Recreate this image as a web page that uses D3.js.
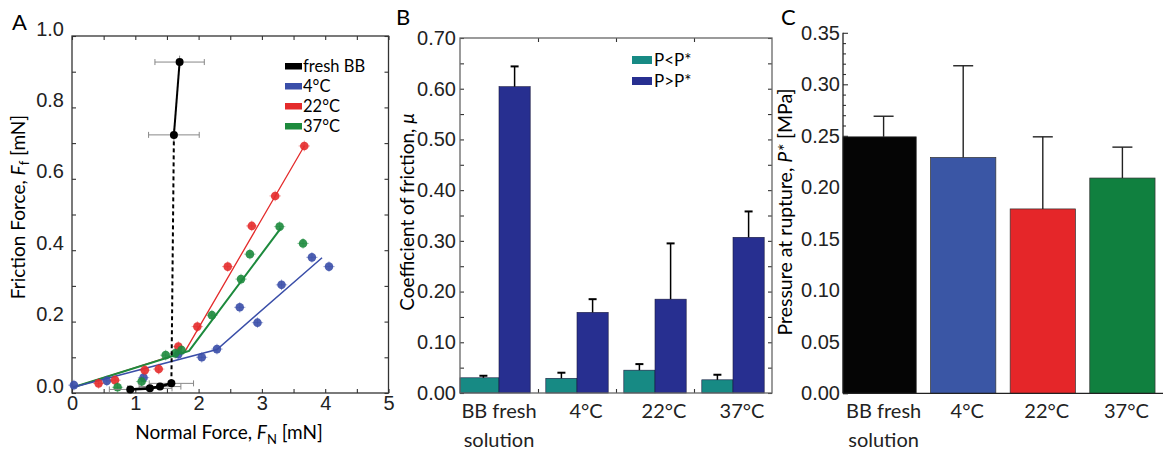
<!DOCTYPE html>
<html>
<head>
<meta charset="utf-8">
<script src="https://cdn.jsdelivr.net/npm/d3@7"></script>
<style>
  body { margin: 0; background: #fff; }
  svg { font-family: Lato, "Noto Sans", sans-serif; }
</style>
</head>
<body>
<svg id="fig" width="1164" height="454"></svg>
<script>
// ---- Panel A: friction force vs normal force, [F_N, F_f] in mN
const freshBB = [[0.92, 0.010], [1.23, 0.013], [1.39, 0.018], [1.57, 0.027], [1.61, 0.723], [1.70, 0.927]];
const freshBBxErr = [0.33, 0.35, 0.33, 0.35, 0.40, 0.39];
const pts4C = [[0.03, 0.022], [0.55, 0.034], [1.13, 0.043], [1.68, 0.109], [2.05, 0.100], [2.29, 0.123],
  [2.65, 0.240], [2.93, 0.197], [3.31, 0.303], [3.79, 0.380], [4.06, 0.354]];
const pts22C = [[0.42, 0.027], [0.68, 0.036], [1.15, 0.064], [1.37, 0.067], [1.68, 0.130], [1.98, 0.186],
  [2.46, 0.354], [2.84, 0.468], [3.21, 0.552], [3.67, 0.692]];
const pts37C = [[0.72, 0.016], [1.10, 0.032], [1.48, 0.106], [1.63, 0.111], [1.73, 0.120], [2.21, 0.218],
  [2.67, 0.319], [2.81, 0.389], [3.28, 0.466], [3.65, 0.419]];
const fit4C = [[0.02, 0.016], [2.29, 0.122], [3.95, 0.379]];
const fit22C = [[0.02, 0.016], [1.78, 0.115], [3.67, 0.692]];
const fit37C = [[0.02, 0.016], [1.85, 0.118], [3.30, 0.462]];
const legendA = ["fresh BB", "4°C", "22°C", "37°C"];

// ---- Panel B: coefficient of friction
const groups = ["BB fresh solution", "4°C", "22°C", "37°C"];
const seriesB = ["P<P*", "P>P*"];
const muBelow = [0.030, 0.029, 0.045, 0.026];
const muBelowErr = [0.004, 0.011, 0.012, 0.010];
const muAbove = [0.604, 0.159, 0.185, 0.307];
const muAboveErr = [0.040, 0.026, 0.110, 0.051];

// ---- Panel C: pressure at rupture
const rupture = [0.249, 0.229, 0.179, 0.209];
const ruptureErr = [0.020, 0.089, 0.070, 0.030];

const colA = { "fresh BB": "#000", "4°C": "#3a4ea8", "22°C": "#e42b2b", "37°C": "#1d8a3d" };
const colB = ["#178a84", "#272f90"];
const colC = ["#050505", "#3a56a5", "#e52629", "#10803f"];

const svg = d3.select("#fig");

// ===================== Panel A =====================
const xA = d3.scaleLinear().domain([0, 5]).range([72, 388.5]);
const yA = d3.scaleLinear().domain([0, 1]).range([393, 36]);
const gA = svg.append("g");

const styleAxis = (g, size) => {
  g.select(".domain").remove();
  g.selectAll("line").attr("stroke", "#333").attr("stroke-width", 1.1);
  g.selectAll("text").attr("font-size", size).attr("fill", "#222");
};

gA.append("g").attr("transform", `translate(0,${yA(0)})`)
  .call(d3.axisBottom(xA).tickValues(d3.range(0, 5.01, 0.5)).tickSize(-4).tickFormat(d => d % 1 ? "" : d))
  .call(g => styleAxis(g, 20));
gA.append("g").attr("transform", `translate(0,${yA(1)})`)
  .call(d3.axisTop(xA).tickValues(d3.range(0, 5.01, 0.5)).tickSize(-4).tickFormat(""))
  .call(g => styleAxis(g, 20));
gA.append("g").attr("transform", `translate(${xA(0)},0)`)
  .call(d3.axisLeft(yA).tickValues(d3.range(0, 1.01, 0.1)).tickSize(-4).tickPadding(8)
    .tickFormat(d => Math.round(d * 10) % 2 ? "" : d3.format(".1f")(d)))
  .call(g => styleAxis(g, 20))
  .call(g => g.selectAll("text").attr("dy", "-0.05em"));
gA.append("g").attr("transform", `translate(${xA(5)},0)`)
  .call(d3.axisRight(yA).tickValues(d3.range(0, 1.01, 0.1)).tickSize(-4).tickFormat(""))
  .call(g => styleAxis(g, 20));
gA.append("rect")
  .attr("x", xA(0)).attr("y", yA(1))
  .attr("width", xA(5) - xA(0)).attr("height", yA(0) - yA(1))
  .attr("fill", "none").attr("stroke", "#333").attr("stroke-width", 1.3);

const lineA = d3.line().x(d => xA(d[0])).y(d => yA(d[1]));

// fitted lines
[[fit22C, "22°C", 1.3], [fit37C, "37°C", 2], [fit4C, "4°C", 1.5]].forEach(([pts, key, w]) => {
  gA.append("path").datum(pts).attr("d", lineA)
    .attr("fill", "none").attr("stroke", colA[key]).attr("stroke-width", w);
});

// colored points with small error bars
[[pts4C, "4°C"], [pts22C, "22°C"], [pts37C, "37°C"]].forEach(([pts, key]) => {
  const g = gA.append("g");
  g.selectAll(".ex").data(pts).join("line")
    .attr("x1", d => xA(d[0] - 0.09)).attr("x2", d => xA(d[0] + 0.09))
    .attr("y1", d => yA(d[1])).attr("y2", d => yA(d[1]))
    .attr("stroke", colA[key]).attr("stroke-opacity", 0.45).attr("stroke-width", 1);
  g.selectAll(".ey").data(pts).join("line")
    .attr("x1", d => xA(d[0])).attr("x2", d => xA(d[0]))
    .attr("y1", d => yA(d[1] - 0.015)).attr("y2", d => yA(d[1] + 0.015))
    .attr("stroke", colA[key]).attr("stroke-opacity", 0.45).attr("stroke-width", 1);
  g.selectAll("circle").data(pts).join("circle")
    .attr("cx", d => xA(d[0])).attr("cy", d => yA(d[1])).attr("r", 4.3)
    .attr("fill", colA[key]).attr("fill-opacity", 0.9);
});

// fresh BB: grey x error bars, solid / dashed black line
gA.selectAll(".bbx").data(freshBB).join("line")
  .attr("x1", (d, i) => xA(d[0] - freshBBxErr[i])).attr("x2", (d, i) => xA(d[0] + freshBBxErr[i]))
  .attr("y1", d => yA(d[1])).attr("y2", d => yA(d[1]))
  .attr("stroke", "#888").attr("stroke-width", 1);
gA.selectAll(".bbxc").data(freshBB.flatMap((d, i) => [[d[0] - freshBBxErr[i], d[1]], [d[0] + freshBBxErr[i], d[1]]])).join("line")
  .attr("x1", d => xA(d[0])).attr("x2", d => xA(d[0]))
  .attr("y1", d => yA(d[1]) - 3).attr("y2", d => yA(d[1]) + 3)
  .attr("stroke", "#888").attr("stroke-width", 1);
gA.selectAll(".bby").data(freshBB.slice(4)).join("line")
  .attr("x1", d => xA(d[0])).attr("x2", d => xA(d[0]))
  .attr("y1", d => yA(d[1] - 0.018)).attr("y2", d => yA(d[1] + 0.018))
  .attr("stroke", "#888").attr("stroke-width", 1);
gA.append("path").datum(freshBB.slice(0, 4)).attr("d", lineA)
  .attr("fill", "none").attr("stroke", "#000").attr("stroke-width", 2.6);
gA.append("path").datum(freshBB.slice(3, 5)).attr("d", lineA)
  .attr("fill", "none").attr("stroke", "#000").attr("stroke-width", 2).attr("stroke-dasharray", "4,3");
gA.append("path").datum(freshBB.slice(4)).attr("d", lineA)
  .attr("fill", "none").attr("stroke", "#000").attr("stroke-width", 2);
gA.selectAll(".bbp").data(freshBB).join("circle")
  .attr("cx", d => xA(d[0])).attr("cy", d => yA(d[1])).attr("r", 4).attr("fill", "#000");

// legend A
const legA = gA.append("g").attr("transform", "translate(285,66)");
legendA.forEach((k, i) => {
  legA.append("rect").attr("x", 0).attr("y", i * 20 - 3).attr("width", 17).attr("height", 6.5).attr("fill", colA[k]);
  legA.append("text").attr("x", 18).attr("y", i * 20 + 6).attr("font-size", 16.5).text(k);
});

// axis titles A
const tA = gA.append("text").attr("text-anchor", "middle").attr("font-size", 19)
  .attr("transform", "translate(25,207) rotate(-90)");
tA.append("tspan").text("Friction Force, ");
tA.append("tspan").attr("font-style", "italic").text("F");
tA.append("tspan").attr("font-size", 13).attr("dy", 4).text("f");
tA.append("tspan").attr("dy", -4).text(" [mN]");
const xtA = gA.append("text").attr("text-anchor", "middle").attr("font-size", 19).attr("x", 229).attr("y", 439);
xtA.append("tspan").text("Normal Force, ");
xtA.append("tspan").attr("font-style", "italic").text("F");
xtA.append("tspan").attr("font-size", 13).attr("dy", 5).text("N");
xtA.append("tspan").attr("dy", -5).text(" [mN]");
svg.append("text").attr("x", 12).attr("y", 30).attr("font-size", 22).text("A");

// ===================== Panel B =====================
const xB = d3.scaleBand().domain(groups).range([460, 772]).paddingInner(0.2).paddingOuter(0.1);
const xSub = d3.scaleBand().domain(seriesB).range([0, xB.bandwidth()]);
const yB = d3.scaleLinear().domain([0, 0.7]).range([393, 38]);
const gB = svg.append("g");

const minorB = d3.range(0, 0.701, 0.05);
gB.append("g").attr("transform", `translate(460,0)`)
  .call(d3.axisLeft(yB).tickValues(minorB).tickSize(-4).tickPadding(4)
    .tickFormat(d => Math.round(d * 100) % 10 ? "" : d3.format(".2f")(d)))
  .call(g => styleAxis(g, 20));
gB.append("g").attr("transform", `translate(772,0)`)
  .call(d3.axisRight(yB).tickValues(minorB).tickSize(-4).tickFormat(""))
  .call(g => styleAxis(g, 20));
const bounds = groups.slice(1).map(g => xB(g) - xB.step() * xB.paddingInner() / 2);
const xBid = d3.scaleLinear().domain([460, 772]).range([460, 772]);
gB.append("g").attr("transform", `translate(0,${yB(0)})`)
  .call(d3.axisBottom(xBid).tickValues(bounds).tickSize(-4).tickFormat(""))
  .call(g => styleAxis(g, 20));
gB.append("g").attr("transform", `translate(0,${yB(0.7)})`)
  .call(d3.axisTop(xBid).tickValues(bounds).tickSize(-4).tickFormat(""))
  .call(g => styleAxis(g, 20));

const valsB = [muBelow, muAbove];
const errsB = [muBelowErr, muAboveErr];
seriesB.forEach((s, si) => {
  groups.forEach((g, gi) => {
    const x0 = xB(g) + xSub(s);
    const left = gi === 0 && si === 0 ? xB.range()[0] : x0;
    const v = valsB[si][gi];
    gB.append("rect").attr("x", left).attr("y", yB(v))
      .attr("width", x0 + xSub.bandwidth() - left).attr("height", yB(0) - yB(v))
      .attr("fill", colB[si]).attr("stroke", "#1a1a40").attr("stroke-width", 0.6);
    const cx = x0 + xSub.bandwidth() / 2;
    const e = errsB[si][gi];
    gB.append("line").attr("x1", cx).attr("x2", cx).attr("y1", yB(v)).attr("y2", yB(v + e))
      .attr("stroke", "#000").attr("stroke-width", 1.5);
    gB.append("line").attr("x1", cx - 4).attr("x2", cx + 4).attr("y1", yB(v + e)).attr("y2", yB(v + e))
      .attr("stroke", "#000").attr("stroke-width", 2);
  });
});
gB.append("rect").attr("x", 460).attr("y", yB(0.7)).attr("width", 312).attr("height", yB(0) - yB(0.7))
  .attr("fill", "none").attr("stroke", "#666").attr("stroke-width", 1.3);

// legend B
seriesB.forEach((s, i) => {
  gB.append("rect").attr("x", 632).attr("y", 56 + i * 21).attr("width", 20).attr("height", 8).attr("fill", colB[i]);
  gB.append("text").attr("x", 654).attr("y", 66 + i * 21).attr("font-size", 17).text(s);
});

// category labels (B and C)
const catLabels = (g, scale, dxOther) => {
  groups.forEach((c, i) => {
    const cx = scale(c) + scale.bandwidth() / 2 + (i ? dxOther : 0);
    const t = g.append("text").attr("text-anchor", "middle").attr("font-size", 20).attr("fill", "#222");
    const words = i === 0 ? ["BB fresh", "solution"] : [c];
    words.forEach((w, j) => t.append("tspan").attr("x", cx).attr("y", 418 + j * 29).text(w));
  });
};
catLabels(gB, xB, 9);

const tB = gB.append("text").attr("text-anchor", "middle").attr("font-size", 19)
  .attr("transform", "translate(414,212) rotate(-90)");
tB.append("tspan").text("Coefficient of friction, ");
tB.append("tspan").attr("font-style", "italic").text("μ");
svg.append("text").attr("x", 396).attr("y", 25).attr("font-size", 22).text("B");

// ===================== Panel C =====================
const xC = d3.scaleBand().domain(groups).range([843, 1163]).paddingInner(0.18).paddingOuter(0.1);
const yC = d3.scaleLinear().domain([0, 0.35]).range([393.3, 32.8]);
const gC = svg.append("g");

gC.append("g").attr("transform", `translate(843,0)`)
  .call(d3.axisLeft(yC).tickValues(d3.range(0, 0.3501, 0.01)).tickSize(-3).tickPadding(3)
    .tickFormat(d => Math.round(d * 100) % 5 ? "" : d3.format(".2f")(d)))
  .call(g => styleAxis(g, 20))
  .call(g => g.selectAll(".tick").filter(d => Math.round(d * 100) % 5 === 0).select("line").attr("x2", 5));
gC.append("line").attr("x1", 843).attr("x2", 843).attr("y1", yC(0)).attr("y2", yC(0.35))
  .attr("stroke", "#222").attr("stroke-width", 1.3);

groups.forEach((g, i) => {
  const x0 = xC(g);
  const left = i === 0 ? xC.range()[0] : x0;
  const v = rupture[i];
  gC.append("rect").attr("x", left).attr("y", yC(v))
    .attr("width", x0 + xC.bandwidth() - left).attr("height", yC(0) - yC(v))
    .attr("fill", colC[i]).attr("stroke", "#333").attr("stroke-width", 0.7);
  const cx = x0 + xC.bandwidth() / 2;
  const top = yC(v + ruptureErr[i]);
  gC.append("line").attr("x1", cx).attr("x2", cx).attr("y1", yC(v)).attr("y2", top)
    .attr("stroke", "#222").attr("stroke-width", 1.4);
  gC.append("line").attr("x1", cx - 10).attr("x2", cx + 10).attr("y1", top).attr("y2", top)
    .attr("stroke", "#222").attr("stroke-width", 1.4);
});
gC.append("line").attr("x1", 843).attr("x2", 1163).attr("y1", yC(0)).attr("y2", yC(0))
  .attr("stroke", "#222").attr("stroke-width", 1.3);
catLabels(gC, xC, 4);

const tC = gC.append("text").attr("text-anchor", "middle").attr("font-size", 19.5)
  .attr("transform", "translate(792,212) rotate(-90)");
tC.append("tspan").text("Pressure at rupture, ");
tC.append("tspan").attr("font-style", "italic").text("P*");
tC.append("tspan").text(" [MPa]");
svg.append("text").attr("x", 781).attr("y", 25).attr("font-size", 22).text("C");
</script>
</body>
</html>
